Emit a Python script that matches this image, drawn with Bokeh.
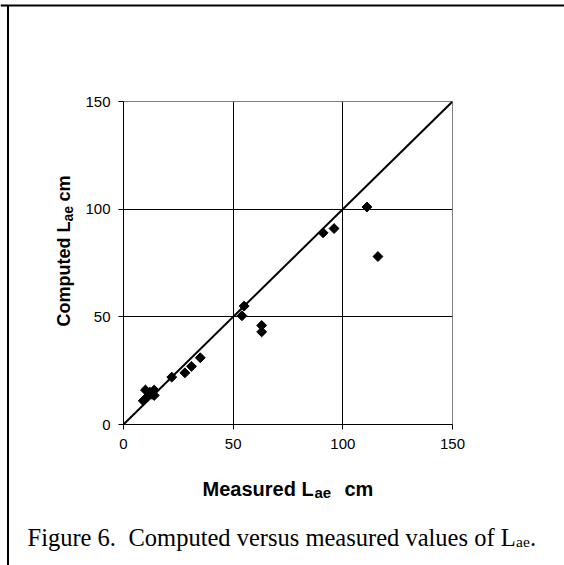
import numpy as np
from bokeh.plotting import figure
from bokeh.models import Label, Range1d, FixedTicker
from bokeh.embed import file_html
from bokeh.resources import INLINE

# ---- data ----
measured = [9, 10, 10, 11, 12, 13, 14, 14, 22, 28, 31, 35, 54, 55, 63, 63, 91, 96, 111, 116]
computed = [11, 12, 16, 13, 15, 14, 16, 13.5, 22, 24, 27, 31, 50.5, 55, 46, 43, 89, 91, 101, 78]
identity = [0, 150]
ticks = [0, 50, 100, 150]

# ---- layout constants (page pixels) ----
W, H = 564, 565
FRAME_L, FRAME_R, FRAME_T, FRAME_B = 123, 452, 101, 424

# ---------------- main chart ----------------
p = figure(width=W, height=H, output_backend="svg", toolbar_location=None,
           x_range=Range1d(0, 150), y_range=Range1d(0, 150),
           min_border_left=FRAME_L, min_border_right=W - FRAME_R,
           min_border_top=FRAME_T, min_border_bottom=H - FRAME_B,
           background_fill_color="white", border_fill_color="white")

p.outline_line_color = "#808080"
p.outline_line_width = 1
for g in (p.xgrid, p.ygrid):
    g.ticker = FixedTicker(ticks=ticks)
    g.grid_line_color = "black"
    g.grid_line_width = 1

for ax in (p.xaxis, p.yaxis):
    ax.ticker = FixedTicker(ticks=ticks)
    ax.axis_line_color = "black"
    ax.axis_line_width = 1
    ax.major_tick_line_color = "black"
    ax.major_tick_out = 5
    ax.major_tick_in = 0
    ax.minor_tick_line_color = None
    ax.major_label_text_font = "Liberation Sans"
    ax.major_label_text_font_size = "15px"
    ax.major_label_text_color = "black"
p.xaxis.major_label_standoff = 9
p.yaxis.major_label_standoff = 8

p.line(identity, identity, line_color="black", line_width=2)
p.scatter(measured, computed, marker="square", angle=np.pi / 4, size=7,
          fill_color="black", line_color="black")

# ---------------- text / border overlay (page-pixel coordinates) ----------------
t = figure(width=W, height=H, output_backend="svg", toolbar_location=None,
           x_range=Range1d(0, W), y_range=Range1d(H, 0),
           x_axis_type=None, y_axis_type=None,
           min_border_left=0, min_border_right=0, min_border_top=0, min_border_bottom=0,
           background_fill_color=None, border_fill_color=None,
           outline_line_color=None)
t.styles = {"position": "absolute", "left": "0px", "top": "0px"}

# page border (top and left rules)
t.segment(x0=[0, 7.5], y0=[5, 5], x1=[W, 7.5], y1=[5, H],
          line_color="black", line_width=2)

def lab(px, py, text, size, bold=True, angle=0.0, font="Liberation Sans"):
    t.add_layout(Label(x=px, y=py, text=text, angle=angle,
                       text_font=font, text_font_size=f"{size}px",
                       text_font_style="bold" if bold else "normal",
                       text_color="black", text_baseline="alphabetic",
                       text_align="left"))

# x title
lab(202, 488, "Measured L", 20)
lab(314, 492, "ae", 15)
lab(344, 488, "cm", 20)

# y title (rotated)
lab(63, 326, "Computed L", 18, angle=np.pi / 2)
lab(67, 221, "ae", 14, angle=np.pi / 2)
lab(63, 201, "cm", 18, angle=np.pi / 2)

# caption
serif = "Liberation Serif"
lab(27, 537, "Figure 6.", 24.5, bold=False, font=serif)
lab(128, 537, "Computed versus measured values of L", 24.5, bold=False, font=serif)
lab(515.5, 541, "ae", 15.5, bold=False, font=serif)
lab(529.5, 537, ".", 24.5, bold=False, font=serif)

open("out.html", "w").write(file_html([p, t], INLINE))
